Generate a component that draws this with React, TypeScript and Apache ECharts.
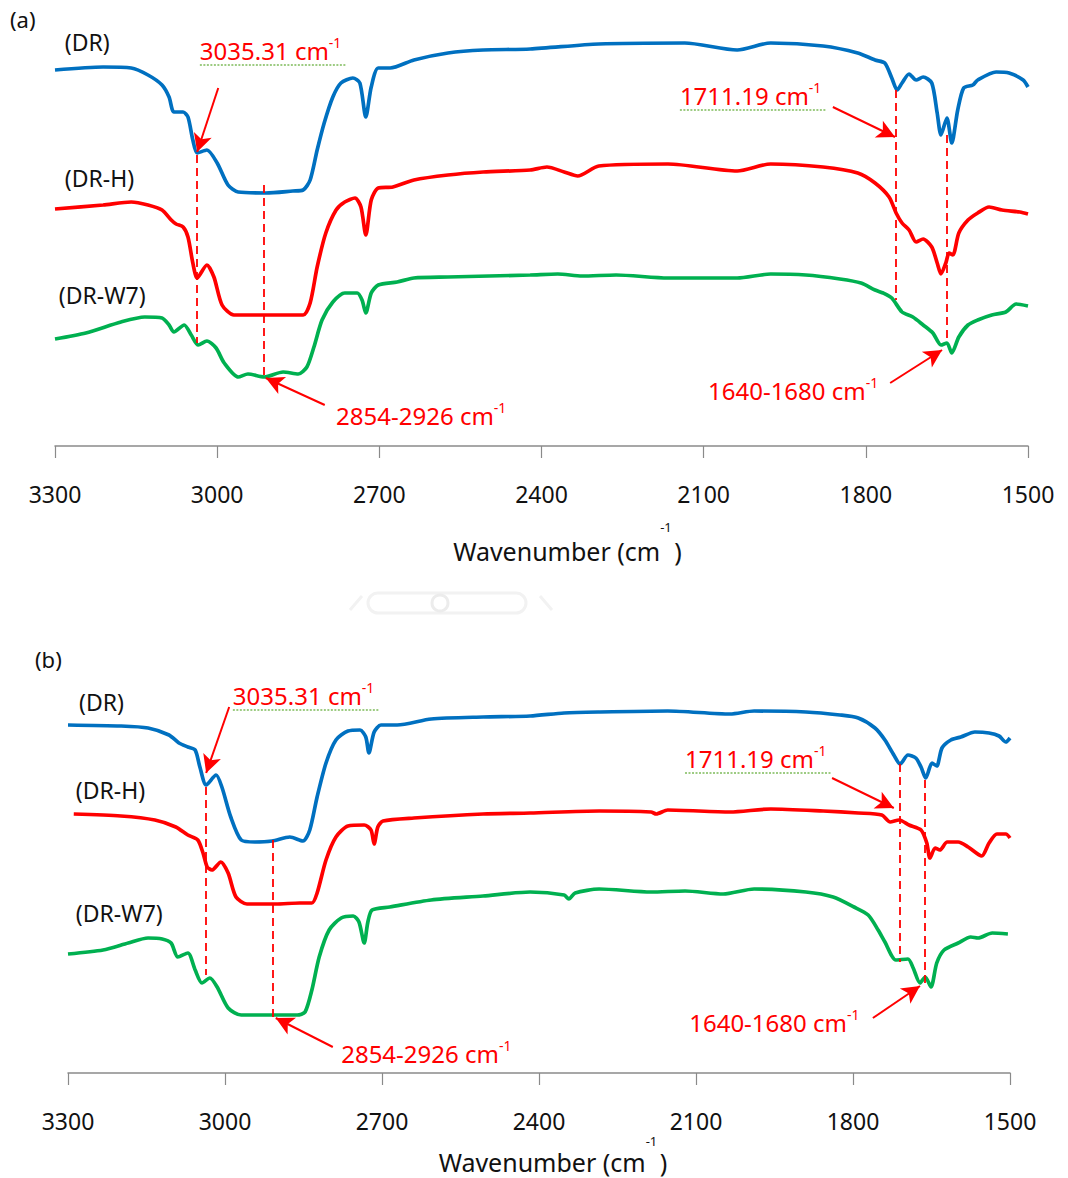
import React, { useEffect, useRef } from "react";
import * as echarts from "echarts";

type Pt = [number, number];

const X_MIN = 1500;
const X_MAX = 3300;
const X_STEP = 300;
const Y_MIN = 0;
const Y_MAX = 110;

const SERIES_NAMES = ["(DR)", "(DR-H)", "(DR-W7)"];
const SERIES_COLORS = ["#0070C0", "#FF0000", "#00B050"];
const AXIS_TITLE = "Wavenumber (cm";

// ---------- Panel (a) spectra (wavenumber, offset transmittance) ----------
const A_DR: Pt[] = [[3300,94],[3211,94.75],[3159,94.5],[3128,92.75],[3102,90.25],[3089,87.25],[3080,83.5],[3063,83.5],[3054,82.25],[3045,76.5],[3037,73.25],[3019,74],[3000,70.75],[2980,65.25],[2961,63.5],[2910,63.25],[2860,63.75],[2841,64],[2828,66.5],[2815,74],[2802,80.75],[2786,87.25],[2771,90.75],[2749,92],[2736,90.75],[2725,82.25],[2715,89.75],[2702,94.5],[2680,94.5],[2636,96.5],[2573,98.25],[2508,99],[2421,99.25],[2294,100.5],[2135,100.75],[2038,99],[1976,100.75],[1879,100],[1815,98.25],[1783,96.5],[1765,95.75],[1752,92],[1742,89],[1733,90.75],[1720,93],[1707,91.5],[1694,92.25],[1678,90.75],[1668,83.25],[1661,77.75],[1650,82],[1641,75.75],[1630,84],[1619,89.5],[1602,90.25],[1593,91.5],[1559,93.5],[1535,93.25],[1509,91.5],[1500,89.75]];
const A_DRH: Pt[] = [[3300,59.25],[3211,60.25],[3159,61],[3128,60.25],[3102,59],[3085,56.5],[3076,55.5],[3063,54.75],[3054,52.25],[3045,45.75],[3037,42],[3019,45.25],[3006,42.25],[2991,35.25],[2969,32.75],[2910,32.75],[2841,32.75],[2828,35.75],[2815,44.75],[2799,53.25],[2780,59],[2764,61],[2745,62],[2734,59.75],[2725,52.75],[2715,61.5],[2702,64.5],[2675,64.75],[2636,66.5],[2573,67.75],[2508,68.5],[2421,69],[2390,69.75],[2358,68.5],[2333,67.5],[2294,70],[2166,70.5],[2038,68.75],[1976,70.5],[1879,69.75],[1815,68.25],[1783,65.75],[1757,62.25],[1744,58.25],[1733,55.75],[1720,54],[1707,51],[1694,51.75],[1678,49.75],[1668,45.75],[1661,43],[1652,45.75],[1646,48.25],[1639,47.75],[1628,53.25],[1611,56.5],[1593,58.25],[1572,59.75],[1548,59],[1515,58.5],[1500,58]];
const A_DRW7: Pt[] = [[3300,26.75],[3243,28.25],[3178,31],[3134,32.25],[3102,32],[3089,30.25],[3080,28.5],[3061,30.25],[3048,27.75],[3035,25.25],[3019,26.25],[3002,24.5],[2987,20.75],[2961,17.25],[2943,18],[2913,17.25],[2878,18.5],[2850,18],[2834,19.75],[2821,24.75],[2806,31.5],[2786,36],[2764,38.25],[2741,38.25],[2732,36.5],[2725,33.25],[2715,38.25],[2702,40.25],[2667,41],[2636,42],[2573,42.25],[2421,42.75],[2370,43],[2325,42.5],[2262,42.75],[2166,42],[2038,42],[1976,43],[1911,42.75],[1848,41.75],[1809,40.75],[1783,39],[1768,38.25],[1752,37],[1733,33.5],[1713,32.25],[1694,30.25],[1676,28.25],[1661,25.25],[1650,25.75],[1641,23.25],[1628,27.25],[1611,30.25],[1593,31.5],[1567,32.75],[1541,33.5],[1522,35.5],[1500,35]];

// ---------- Panel (b) spectra ----------
const B_DR: Pt[] = [[3300,87],[3199,86.75],[3147,86.25],[3107,84.5],[3088,82.5],[3071,81.5],[3057,80.75],[3048,76.5],[3036,72],[3017,74.5],[3006,71.5],[2989,64],[2969,58.25],[2943,57.75],[2910,58],[2876,59],[2851,58],[2838,60.75],[2824,69],[2807,77.5],[2788,83.25],[2765,85.5],[2742,85.75],[2731,84],[2725,80],[2715,85.25],[2702,87],[2671,87],[2606,88.5],[2507,89],[2417,89.25],[2352,90],[2285,90.25],[2154,90.5],[2035,89.75],[1989,90.5],[1890,90.25],[1825,89.5],[1790,88.75],[1758,86.25],[1739,83.25],[1722,79.5],[1710,77.25],[1695,79.5],[1680,78.75],[1670,76.5],[1661,73.75],[1649,77.5],[1640,76.75],[1630,81.25],[1613,83.25],[1594,84],[1567,85.25],[1540,85],[1521,84.25],[1508,82.75],[1500,83.75]];
const B_DRH: Pt[] = [[3289,64.75],[3199,64.25],[3134,63.25],[3094,61.5],[3071,59.5],[3052,58.25],[3042,55],[3034,51.5],[3025,50.75],[3008,52.75],[2994,50],[2979,44],[2958,42.25],[2903,42.25],[2857,42.5],[2834,42.5],[2824,45],[2807,53.25],[2788,59],[2765,61.75],[2734,62],[2721,60.75],[2715,57.25],[2708,61.5],[2698,63],[2639,63.75],[2507,64.75],[2417,65],[2285,65.5],[2186,65.25],[2176,64.75],[2154,65.75],[2035,65.25],[1957,66],[1857,65.5],[1790,65],[1745,64.5],[1729,62.75],[1712,63.25],[1693,62],[1670,60.75],[1659,57.5],[1653,53.75],[1643,56.25],[1634,55.75],[1620,57.75],[1599,57.75],[1580,56.5],[1554,54.25],[1540,57.5],[1525,59.75],[1508,59.75],[1500,58.75]];
const B_DRW7: Pt[] = [[3300,29.75],[3233,30.75],[3185,32.5],[3147,33.75],[3120,33.5],[3103,32.5],[3090,29],[3071,30],[3057,25.75],[3044,22.5],[3029,23.75],[3015,21.5],[2994,16.25],[2969,14.5],[2903,14.5],[2862,14.5],[2847,15.25],[2834,20.75],[2820,29],[2801,35.75],[2778,38.75],[2755,39.25],[2744,37.75],[2734,32.5],[2727,37.75],[2719,40.75],[2685,41.5],[2606,43.25],[2507,44.25],[2417,45.25],[2352,44.5],[2343,43.5],[2331,45],[2285,46],[2186,45.25],[2121,45.5],[2048,44.75],[1989,46],[1890,45.25],[1838,44],[1798,41.5],[1771,39.5],[1752,35.75],[1739,32.75],[1718,28.25],[1695,28.5],[1685,26.25],[1672,22.5],[1662,24],[1651,21.5],[1640,27.5],[1626,30.75],[1599,32.5],[1575,34],[1561,33.75],[1534,35],[1504,34.75]];

// ---------- Annotations (data coordinates) ----------
// dashed guide lines: [wavenumber, top value, bottom value]
const A_GUIDES: [number, number, number][] = [[3037, 72.75, 25.75], [2913, 65.25, 17.25], [1744, 89, 36.5], [1650, 77.75, 25.75]];
const B_GUIDES: [number, number, number][] = [[3036, 71.5, 24.5], [2908, 58.25, 13.75], [1710, 77.25, 27.75], [1662, 73.25, 22.5]];
// arrows: [from, to]
const A_ARROWS: [Pt, Pt][] = [[[2998, 89.5], [3037, 73.5]], [[2801, 10.25], [2910, 17]], [[1861, 84.75], [1746, 77.25]], [[1755, 15.75], [1659, 24]]];
const B_ARROWS: [Pt, Pt][] = [[[2992, 91.5], [3036, 75]], [[2794, 6.5], [2903, 13.75]], [[1840, 73.75], [1722, 66.25]], [[1762, 13.75], [1672, 21.75]]];
// peak labels
const NOTE_TEXTS = ["3035.31 cm", "2854-2926 cm", "1711.19 cm", "1640-1680 cm"];
const NOTE_SQUIGGLE = [true, false, true, false];
const A_NOTE_AT: Pt[] = [[3032, 99], [2780, 7.75], [2144, 87.75], [2092, 14]];
const B_NOTE_AT: Pt[] = [[2985, 94.5], [2778, 5], [2121, 78.75], [2113, 12.75]];
// sample name labels
const A_NAME_AT: Pt[] = [[3282, 101], [3282, 67], [3293, 37.75]];
const B_NAME_AT: Pt[] = [[3279, 92.75], [3285, 70.75], [3285, 40]];

const FONT = "'Noto Sans', 'Open Sans', sans-serif";
const RED = "#FF0000";

function lineSeries(data: Pt[], idx: number, panel: number, extra: any = {}) {
  return {
    type: "line",
    name: SERIES_NAMES[idx],
    xAxisIndex: panel,
    yAxisIndex: panel,
    data,
    showSymbol: false,
    smooth: 0.25,
    lineStyle: { color: SERIES_COLORS[idx], width: 3.7 },
    itemStyle: { color: SERIES_COLORS[idx] },
    emphasis: { disabled: true },
    silent: true,
    z: 2,
    ...extra,
  };
}

function guideMarkLine(guides: [number, number, number][]) {
  return {
    silent: true,
    symbol: ["none", "none"],
    label: { show: false },
    emphasis: { disabled: true },
    lineStyle: { color: RED, width: 1.8, type: [8, 5] },
    data: guides.map((g) => [{ coord: [g[0], g[1]] }, { coord: [g[0], g[2]] }]),
  };
}

function arrowMarkLine(arrows: [Pt, Pt][]) {
  return {
    silent: true,
    symbol: ["none", "arrow"],
    symbolSize: [14, 18],
    label: { show: false },
    emphasis: { disabled: true },
    lineStyle: { color: RED, width: 2, type: "solid" },
    itemStyle: { color: RED },
    data: arrows.map((a) => [{ coord: a[0] }, { coord: a[1] }]),
  };
}

function xAxis(gridIndex: number, labelMargin: number, nameGap: number, padLeft: number, supRise: number) {
  return {
    type: "value",
    gridIndex,
    min: X_MIN,
    max: X_MAX,
    interval: X_STEP,
    inverse: true,
    axisLine: { show: true, lineStyle: { color: "#8a8a8a", width: 1.5 } },
    axisTick: { show: true, inside: false, length: 12, lineStyle: { color: "#8a8a8a", width: 1.2 } },
    splitLine: { show: false },
    axisLabel: {
      color: "#111",
      fontSize: 23,
      fontFamily: FONT,
      margin: labelMargin,
      formatter: (v: number) => String(v),
    },
    name: `{t|${AXIS_TITLE}}{s|-1}{h| }{t|)}`,
    nameLocation: "middle",
    nameGap,
    nameTextStyle: {
      padding: [0, 0, 0, padLeft],
      rich: {
        t: { fontSize: 25, lineHeight: 26, fontFamily: FONT, color: "#111", verticalAlign: "bottom" },
        s: { fontSize: 13, lineHeight: 14, fontFamily: FONT, color: "#111", verticalAlign: "top" },
        h: { fontSize: 10, lineHeight: supRise, fontFamily: FONT, color: "#111", verticalAlign: "top" },
      },
    },
  };
}

function yAxis(gridIndex: number) {
  return { type: "value", gridIndex, min: Y_MIN, max: Y_MAX, show: false };
}

export default function App() {
  const ref = useRef<HTMLDivElement>(null);
  useEffect(() => {
    if (!ref.current) return;
    const chart = echarts.init(ref.current, undefined, { renderer: "svg" });
    const option: any = {
      animation: false,
      backgroundColor: "#ffffff",
      grid: [
        { left: 55, right: 40, top: 6, height: 440 },
        { left: 68, right: 58, top: 633, height: 440 },
      ],
      xAxis: [xAxis(0, 36, 74, 52, 43), xAxis(1, 36, 61, 28, 40)],
      yAxis: [yAxis(0), yAxis(1)],
      series: [
        lineSeries(A_DR, 0, 0),
        lineSeries(A_DRH, 1, 0, { markLine: guideMarkLine(A_GUIDES) }),
        lineSeries(A_DRW7, 2, 0, { markLine: arrowMarkLine(A_ARROWS) }),
        lineSeries(B_DR, 0, 1),
        lineSeries(B_DRH, 1, 1, { markLine: guideMarkLine(B_GUIDES) }),
        lineSeries(B_DRW7, 2, 1, { markLine: arrowMarkLine(B_ARROWS) }),
      ],
    };
    chart.setOption(option);

    const toPx = (g: number, p: Pt) => chart.convertToPixel({ gridIndex: g }, p) as number[];
    const graphics: any[] = [];

    const addNotes = (g: number, at: Pt[]) => {
      at.forEach((p, i) => {
        const px = toPx(g, p);
        graphics.push({
          type: "text",
          x: px[0],
          y: px[1],
          z: 10,
          style: {
            text: `{n|${NOTE_TEXTS[i]}}{s|-1}`,
            align: "left",
            verticalAlign: "middle",
            rich: {
              n: { fontSize: 24, lineHeight: 30, fill: RED, fontFamily: FONT },
              s: { fontSize: 14, lineHeight: 14, fill: RED, fontFamily: FONT, verticalAlign: "top" },
            },
          },
        });
        if (NOTE_SQUIGGLE[i]) {
          graphics.push({
            type: "line",
            z: 9,
            shape: { x1: px[0], y1: px[1] + 15, x2: px[0] + 147, y2: px[1] + 15 },
            style: { stroke: "#7dbb5a", lineWidth: 1.5, lineDash: [2, 1.5] },
          });
        }
      });
    };
    const addNames = (g: number, at: Pt[]) => {
      at.forEach((p, i) => {
        const px = toPx(g, p);
        graphics.push({
          type: "text",
          x: px[0],
          y: px[1],
          z: 10,
          style: { text: SERIES_NAMES[i], fill: "#111", fontSize: 23, fontFamily: FONT, align: "left", verticalAlign: "middle" },
        });
      });
    };
    addNotes(0, A_NOTE_AT);
    addNotes(1, B_NOTE_AT);
    addNames(0, A_NAME_AT);
    addNames(1, B_NAME_AT);

    graphics.push(
      { type: "text", left: 10, top: 8, style: { text: "(a)", fill: "#111", fontSize: 22, fontFamily: FONT } },
      { type: "text", left: 35, top: 648, style: { text: "(b)", fill: "#111", fontSize: 22, fontFamily: FONT } },
      // faint watermark between the panels
      { type: "rect", shape: { x: 368, y: 593, width: 158, height: 20, r: 10 }, style: { fill: "none", stroke: "#f2f2f2", lineWidth: 3 } },
      { type: "circle", shape: { cx: 440, cy: 603, r: 8 }, style: { fill: "none", stroke: "#ececec", lineWidth: 3 } },
      { type: "line", shape: { x1: 350, y1: 610, x2: 362, y2: 596 }, style: { stroke: "#f2f2f2", lineWidth: 3 } },
      { type: "line", shape: { x1: 540, y1: 596, x2: 552, y2: 610 }, style: { stroke: "#f2f2f2", lineWidth: 3 } }
    );

    chart.setOption({ graphic: graphics });
    return () => chart.dispose();
  }, []);
  return (
    <div
      ref={ref}
      style={{ position: "absolute", left: 0, top: 0, width: 1068, height: 1178, background: "#fff" }}
    />
  );
}
